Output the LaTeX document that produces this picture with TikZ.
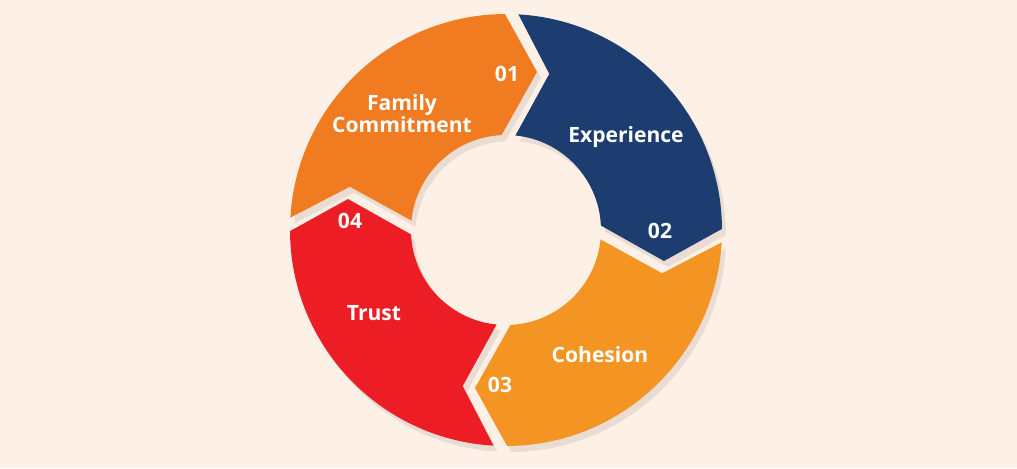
\documentclass[tikz,border=0pt]{standalone}
\usepackage{fontspec}
\setmainfont{Open Sans}
\definecolor{pageBg}{HTML}{FDF0E7}
\definecolor{partOne}{HTML}{F17B21}
\definecolor{partTwo}{HTML}{1D3C70}
\definecolor{partThree}{HTML}{F39423}
\definecolor{partFour}{HTML}{EC1D25}
\definecolor{shadowTone}{HTML}{E9DCD2}
\newcommand{\ringOut}{216}
\newcommand{\ringIn}{95}
% one ring part, clockwise from boundary #1 to boundary #2
\newcommand{\ringseg}[2]{(#1-1.8:\ringOut)
  arc[start angle=#1-1.8, end angle=#2+1.8, radius=\ringOut]
  -- (#2-9.6:161) -- (#2+4.2:\ringIn)
  arc[start angle=#2+4.2, end angle=#1-4.2, radius=\ringIn]
  -- (#1-14:162) -- cycle}
\tikzset{
  partlabel/.style={text=white, font=\fontsize{12}{12.5}\selectfont\bfseries, align=center},
  partnum/.style={partlabel},
  partshadow/.style={fill=shadowTone, shift={(4,-6)}},
}

\begin{document}
\begin{tikzpicture}[x=0.02cm, y=0.02cm]
  \useasboundingbox (-506,-238) rectangle (511,230);
  \fill[pageBg] (-506,-238) rectangle (511,230);
  % shadows first
  \foreach \a/\b in {178.5/88.5, 88.5/-1.5, -1.5/-91.5, 268.5/178.5}
    \fill[partshadow] \ringseg{\a}{\b};
  \fill[partOne] \ringseg{178.5}{88.5};
  \fill[partTwo] \ringseg{88.5}{-1.5};
  \fill[partThree] \ringseg{-1.5}{-91.5};
  \fill[partFour] \ringseg{268.5}{178.5};
  \node[partlabel] (fam) at (-104,116) {Family\\Commitment};
  \node[partlabel] (exp) at (120,93) {Experience};
  \node[partlabel] (coh) at (94,-125) {Cohesion};
  \node[partlabel] (tru) at (-132,-83) {Trust};
  \node[partnum] (one) at (1,156) {01};
  \node[partnum] (two) at (154,-1) {02};
  \node[partnum] (three) at (-6,-155) {03};
  \node[partnum] (four) at (-156,9) {04};
\end{tikzpicture}
\end{document}
